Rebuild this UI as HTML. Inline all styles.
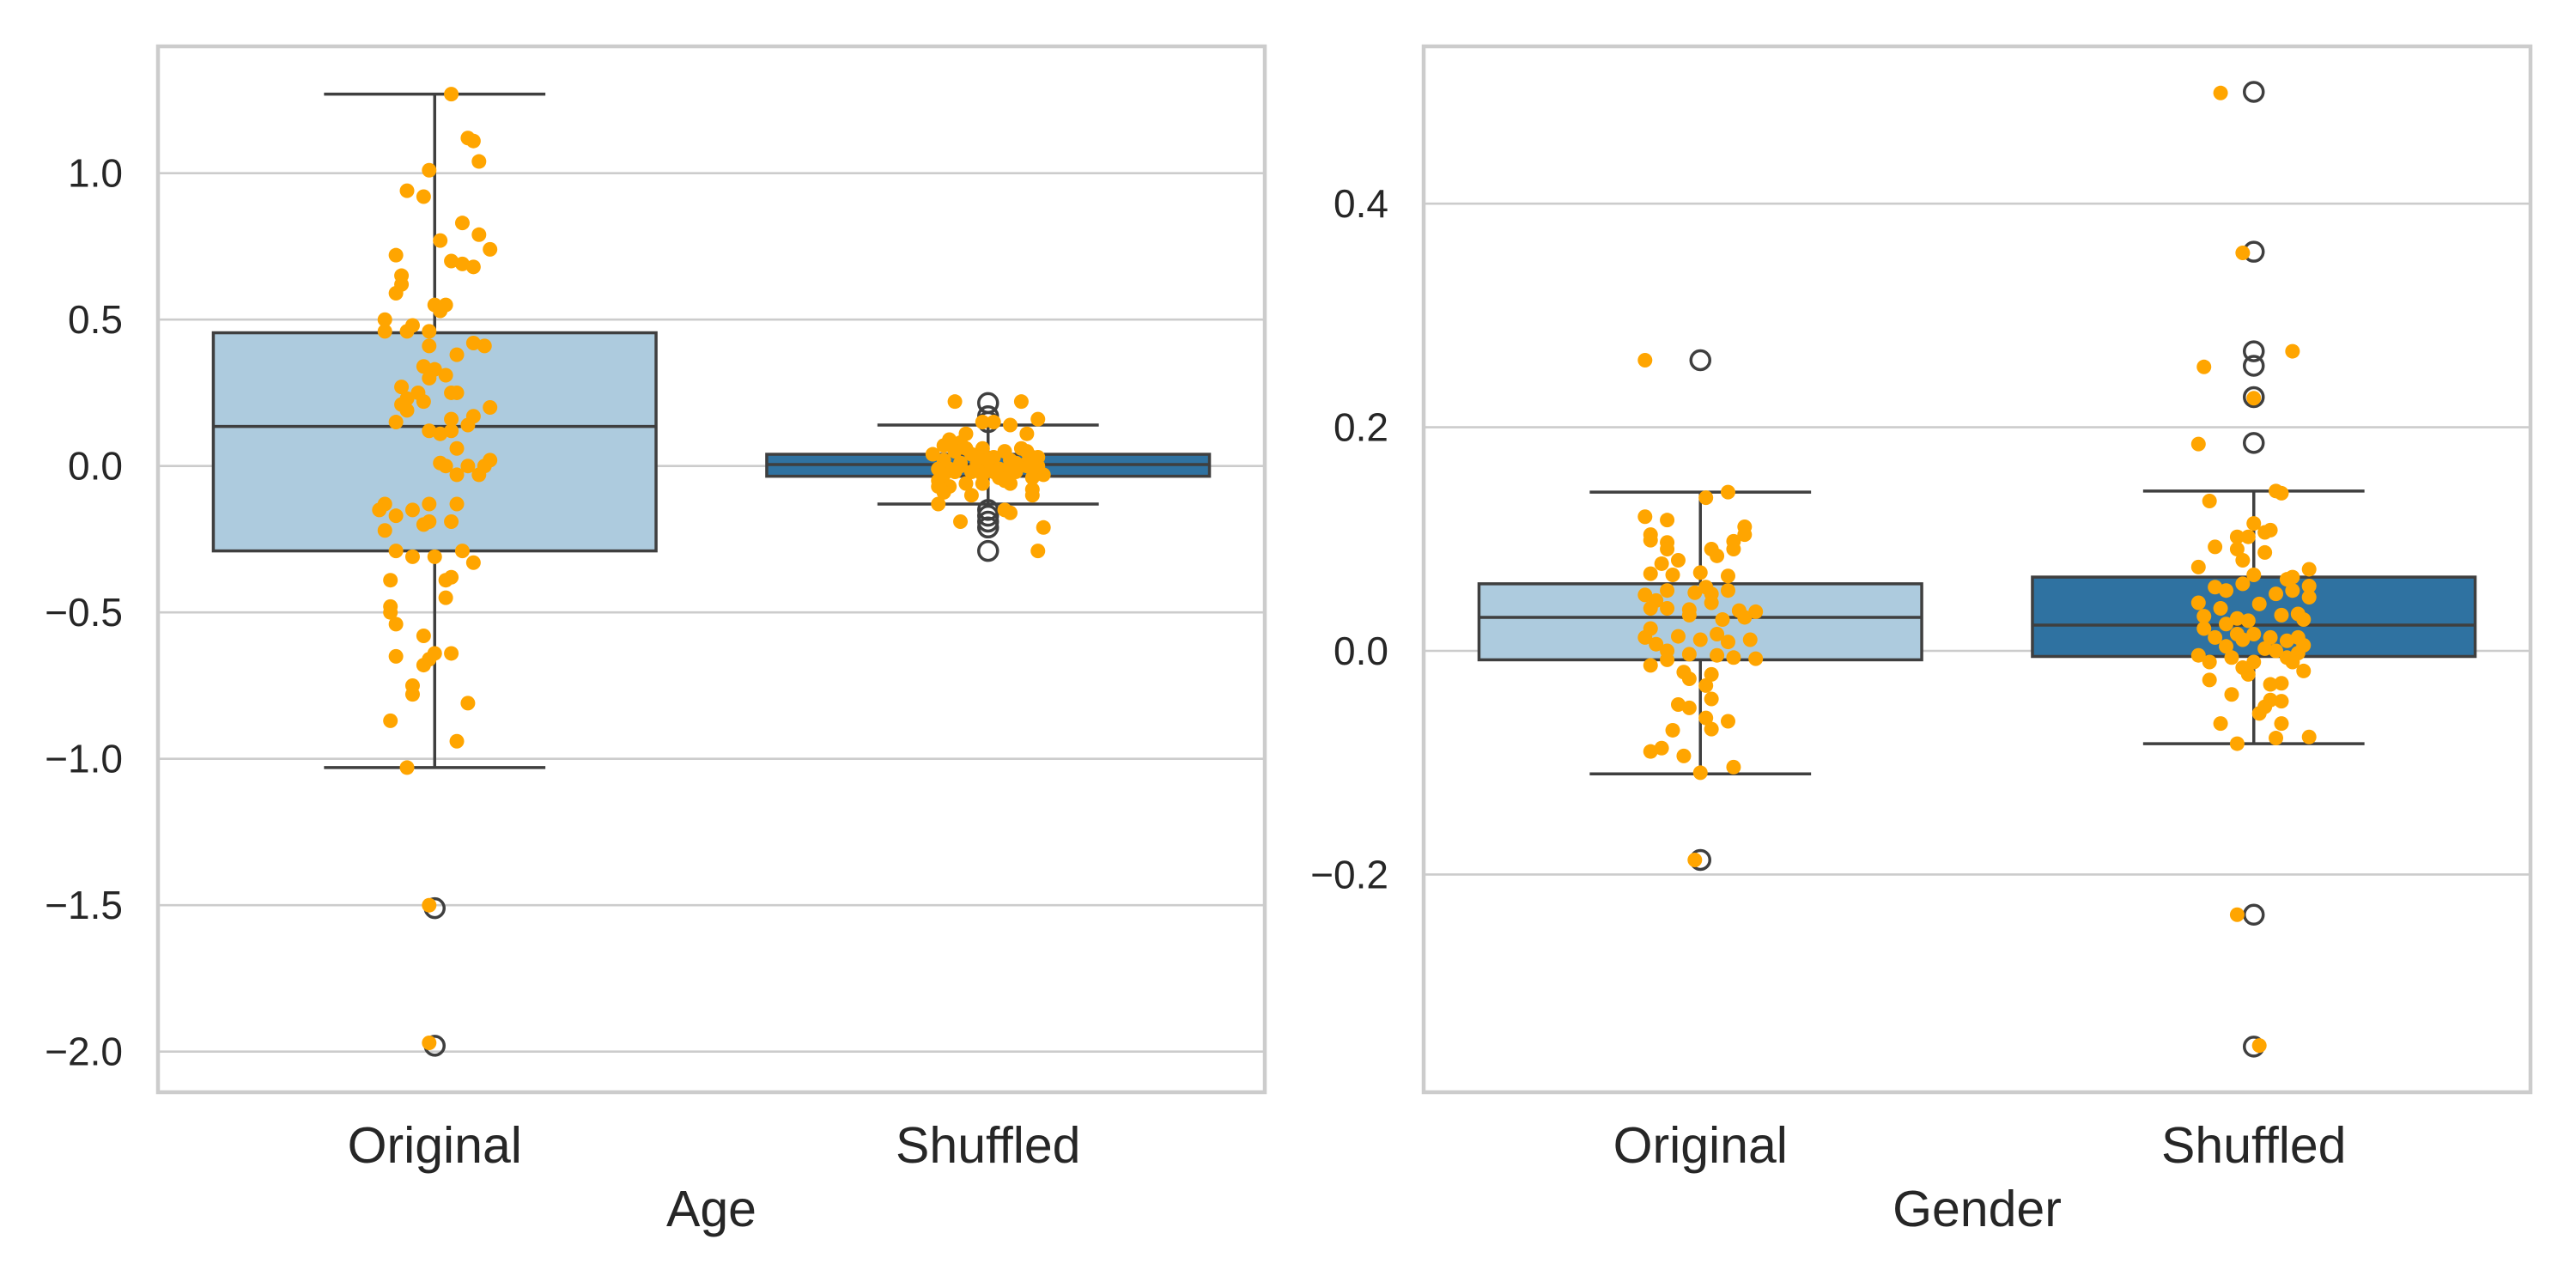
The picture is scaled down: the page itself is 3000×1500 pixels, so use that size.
<!DOCTYPE html>
<html><head><meta charset="utf-8"><style>
html,body{margin:0;padding:0;background:#fff;}
svg{display:block;font-family:"Liberation Sans",Arial,sans-serif;}
</style></head><body>
<svg id="chart" width="3000" height="1500" viewBox="0 0 3000 1500"></svg>
<script>
// ---- data ----
const categories = ["Original","Shuffled"];
const panelTitles = ["Age","Gender"];
const ageTicks = [-2.0,-1.5,-1.0,-0.5,0.0,0.5,1.0];
const ageTickLabels = ["\u22122.0","\u22121.5","\u22121.0","\u22120.5","0.0","0.5","1.0"];
const genderTicks = [-0.2,0.0,0.2,0.4];
const genderTickLabels = ["\u22120.2","0.0","0.2","0.4"];
// box stats: [whiskerLow, Q1, median, Q3, whiskerHigh]
const ageOrigBox = [-1.03,-0.29,0.135,0.455,1.27];
const ageShufBox = [-0.13,-0.035,0.005,0.04,0.14];
const genderOrigBox = [-0.11,-0.008,0.03,0.06,0.142];
const genderShufBox = [-0.083,-0.005,0.023,0.066,0.143];
const ageOrigOutliers = [-1.51,-1.98];
const ageShufOutliers = [0.215,0.17,0.15,-0.15,-0.17,-0.19,-0.21,-0.29];
const genderOrigOutliers = [0.26,-0.187];
const genderShufOutliers = [0.5,0.357,0.268,0.255,0.227,0.186,-0.236,-0.354];
// strip points: [value, jitter]
const ageOrigPts = [[1.27,.03],[1.12,.06],[1.11,.07],[1.04,.08],[1.01,-.01],[0.94,-.05],[0.92,-.02],[0.83,.05],[0.77,.01],[0.79,.08],[0.74,.1],[0.72,-.07],[0.70,.03],[0.69,.05],[0.68,.07],[0.65,-.06],[0.62,-.06],[0.59,-.07],[0.55,0],[0.55,.02],[0.53,.01],[0.50,-.09],[0.46,-.09],[0.46,-.05],[0.48,-.04],[0.46,-.01],[0.42,.07],[0.41,.09],[0.41,-.01],[0.38,.04],[0.34,-.02],[0.33,0],[0.31,.02],[0.30,-.01],[0.27,-.06],[0.25,.03],[0.25,.04],[0.23,-.05],[0.25,-.03],[0.22,-.02],[0.21,-.06],[0.20,.1],[0.19,-.05],[0.17,.07],[0.16,.03],[0.15,-.07],[0.14,.06],[0.12,-.01],[0.11,.01],[0.12,.03],[0.06,.04],[0.01,.01],[0.0,.02],[0.0,.06],[0.0,.09],[0.02,.1],[-0.03,.04],[-0.03,.08],[-0.13,-.09],[-0.15,-.1],[-0.17,-.07],[-0.15,-.04],[-0.13,-.01],[-0.13,.04],[-0.2,-.02],[-0.19,-.01],[-0.19,.03],[-0.22,-.09],[-0.29,-.07],[-0.31,-.04],[-0.31,0],[-0.29,.05],[-0.33,.07],[-0.39,-.08],[-0.39,.02],[-0.38,.03],[-0.45,.02],[-0.48,-.08],[-0.50,-.08],[-0.54,-.07],[-0.58,-.02],[-0.65,-.07],[-0.64,0],[-0.64,.03],[-0.68,-.02],[-0.66,-.01],[-0.75,-.04],[-0.78,-.04],[-0.81,.06],[-0.87,-.08],[-0.94,.04],[-1.03,-.05],[-1.50,-.01],[-1.97,-.01]];
const ageShufPts = [[0.22,-.06],[0.22,.06],[0.16,.09],[0.15,-.01],[0.15,.01],[0.14,.04],[0.11,-.04],[0.11,.07],[0.09,-.07],[0.08,-.05],[0.07,-.08],[0.04,-.1],[0.06,-.01],[0.06,.06],[0.05,.03],[0.04,-.03],[0.03,.01],[0.03,.08],[0.03,.09],[0.02,-.08],[0.02,.04],[0.01,-.02],[0,-.05],[0,0],[-0.01,.02],[0,.07],[-0.01,-.09],[-0.02,-.06],[-0.02,-.03],[-0.02,.05],[-0.03,.1],[-0.04,.08],[-0.05,-.09],[-0.05,.03],[-0.06,-.01],[-0.06,-.04],[-0.07,-.07],[-0.06,.04],[-0.08,.08],[-0.07,-.09],[-0.09,-.08],[-0.1,.08],[-0.1,-.03],[-0.13,-.09],[-0.15,.03],[-0.16,.04],[-0.19,-.05],[-0.21,.1],[-0.29,.09],[0.02,0],[0.03,-.02],[0.01,.07],[-0.01,-.07],[0.01,.05],[-0.02,.01],[-0.03,-.01],[0.01,-.05],[-0.01,.04],[0.06,-.04],[0.05,.07],[0.0,.09],[-0.03,-.08],[-0.04,.02],[0.05,-.06]];
const genderOrigPts = [[0.26,-.1],[0.137,.01],[0.142,.05],[0.111,.08],[0.104,.08],[0.12,-.1],[0.117,-.06],[0.104,-.09],[0.099,-.09],[0.097,-.06],[0.091,-.06],[0.098,.06],[0.091,.02],[0.091,.06],[0.085,.03],[0.081,-.04],[0.078,-.07],[0.07,0],[0.068,-.05],[0.069,-.09],[0.067,.05],[0.057,.01],[0.054,-.06],[0.054,.05],[0.052,-.01],[0.051,.02],[0.05,-.1],[0.045,-.08],[0.043,.02],[0.036,.07],[0.035,.1],[0.038,-.06],[0.038,-.09],[0.037,-.02],[0.03,.08],[0.032,-.02],[0.028,.04],[0.02,-.09],[0.013,-.04],[0.015,.03],[0.01,.09],[0.012,-.1],[0.01,0],[0.008,.05],[0.006,-.08],[0,-.06],[-0.003,-.02],[-0.004,.03],[-0.006,.06],[-0.007,.1],[-0.008,-.06],[-0.013,-.09],[-0.019,-.03],[-0.021,.02],[-0.025,-.02],[-0.031,.01],[-0.043,.02],[-0.048,-.04],[-0.051,-.02],[-0.063,.05],[-0.06,.01],[-0.07,.02],[-0.071,-.05],[-0.09,-.09],[-0.087,-.07],[-0.094,-.03],[-0.104,.06],[-0.109,0],[-0.187,-.01]];
const genderShufPts = [[0.499,-.06],[0.356,-.02],[0.268,.07],[0.254,-.09],[0.226,0],[0.185,-.1],[0.143,.04],[0.141,.05],[0.134,-.08],[0.114,0],[0.108,.03],[0.106,.02],[0.102,-.01],[0.102,-.03],[0.093,-.07],[0.091,-.03],[0.088,.02],[0.081,-.02],[0.075,-.1],[0.073,.1],[0.066,.07],[0.064,.06],[0.068,0],[0.06,-.02],[0.058,.1],[0.057,-.07],[0.054,-.05],[0.054,.07],[0.051,.04],[0.048,.1],[0.043,-.1],[0.038,-.06],[0.042,.01],[0.031,-.09],[0.033,.08],[0.032,.05],[0.028,.09],[0.029,-.03],[0.024,-.05],[0.027,-.01],[0.02,-.09],[0.015,-.03],[0.012,-.07],[0.015,0],[0.012,.03],[0.012,.08],[0.01,-.02],[0.009,.06],[0.005,.09],[0.004,-.05],[0.002,.02],[0,.04],[-0.002,.08],[-0.004,-.1],[-0.01,-.08],[-0.006,-.04],[-0.006,.06],[-0.01,.07],[-0.01,0],[-0.015,-.02],[-0.018,.09],[-0.021,-.01],[-0.026,-.08],[-0.029,.05],[-0.03,.03],[-0.039,-.04],[-0.044,.03],[-0.045,.05],[-0.05,.02],[-0.056,.01],[-0.065,-.06],[-0.065,.05],[-0.078,.04],[-0.077,.1],[-0.083,-.03],[-0.236,-.03],[-0.353,.01]];

// ---- drawing ----
const NS = "http://www.w3.org/2000/svg";
const svg = document.getElementById("chart");
function el(tag, attrs, parent){ const e=document.createElementNS(NS,tag); for(const k in attrs) e.setAttribute(k,attrs[k]); (parent||svg).appendChild(e); return e; }

function panel(cfg){
  const {x0,x1,y0,y1,ymin,ymax,ticks,tickLabels,boxes,outliers,pts,colors,title,name} = cfg;
  const g = el("g",{});
  
  
  const X = c => x0 + (c + 0.5) * (x1 - x0) / 2;
  const W = (x1 - x0) / 2;
  const Y = v => y1 - (v - ymin) / (ymax - ymin) * (y1 - y0);
  ticks.forEach((t,i)=>{
    const gl = el("line",{x1:x0,x2:x1,y1:Y(t),y2:Y(t),stroke:"#cccccc","stroke-width":2.6},g);
    
    
    const tl = el("text",{x:x0-41,y:Y(t)+16,"text-anchor":"end","font-size":46,fill:"#262626"},g);
    tl.textContent = tickLabels[i];
    
    
  });
  boxes.forEach((b,c)=>{
    const cx = X(c), hw = W*0.4, cw = W*0.2;
    const bg = el("g",{},g);
    
    
    el("line",{x1:cx,x2:cx,y1:Y(b[0]),y2:Y(b[1]),stroke:"#3f3f3f","stroke-width":3.5},bg);
    el("line",{x1:cx,x2:cx,y1:Y(b[3]),y2:Y(b[4]),stroke:"#3f3f3f","stroke-width":3.5},bg);
    el("line",{x1:cx-cw,x2:cx+cw,y1:Y(b[0]),y2:Y(b[0]),stroke:"#3f3f3f","stroke-width":3.5},bg);
    el("line",{x1:cx-cw,x2:cx+cw,y1:Y(b[4]),y2:Y(b[4]),stroke:"#3f3f3f","stroke-width":3.5},bg);
    el("rect",{x:cx-hw,y:Y(b[3]),width:2*hw,height:Y(b[1])-Y(b[3]),fill:colors[c],stroke:"#3f3f3f","stroke-width":3.5},bg);
    el("line",{x1:cx-hw,x2:cx+hw,y1:Y(b[2]),y2:Y(b[2]),stroke:"#3f3f3f","stroke-width":3.5},bg);
    outliers[c].forEach(v=>{
      const o = el("circle",{cx:cx,cy:Y(v),r:11,fill:"none",stroke:"#3f3f3f","stroke-width":3.5},bg);
      
      
    });
  });
  pts.forEach((arr,c)=>{
    arr.forEach(p=>{
      const d = el("circle",{cx:X(c)+p[1]*W,cy:Y(p[0]),r:8.5,fill:"#ffa500"},g);
      
      
    });
  });
  const fr = el("rect",{x:x0,y:y0,width:x1-x0,height:y1-y0,fill:"none",stroke:"#cccccc","stroke-width":4.5},g);
  
  
  categories.forEach((cat,c)=>{
    const t = el("text",{x:X(c),y:1354,"text-anchor":"middle","font-size":59,fill:"#262626"},g);
    t.textContent = cat;
    
    
  });
  const at = el("text",{x:(x0+x1)/2,y:1428,"text-anchor":"middle","font-size":59,fill:"#262626"},g);
  at.textContent = title;
  
  
}

// left: 0 at 542.7, 341 px/unit; right: 0 at 758, 1302 px/unit
panel({name:"age-panel",x0:184,x1:1473,y0:54,y1:1272,
  ymin:-(1272-542.7)/341, ymax:(542.7-54)/341,
  ticks:ageTicks,tickLabels:ageTickLabels,
  boxes:[ageOrigBox,ageShufBox],outliers:[ageOrigOutliers,ageShufOutliers],
  pts:[ageOrigPts,ageShufPts],colors:["#adcbde","#2f72a1"],title:panelTitles[0]});
panel({name:"gender-panel",x0:1658,x1:2947,y0:54,y1:1272,
  ymin:-(1272-758)/1302, ymax:(758-54)/1302,
  ticks:genderTicks,tickLabels:genderTickLabels,
  boxes:[genderOrigBox,genderShufBox],outliers:[genderOrigOutliers,genderShufOutliers],
  pts:[genderOrigPts,genderShufPts],colors:["#adcbde","#2f72a1"],title:panelTitles[1]});
</script>
</body></html>
